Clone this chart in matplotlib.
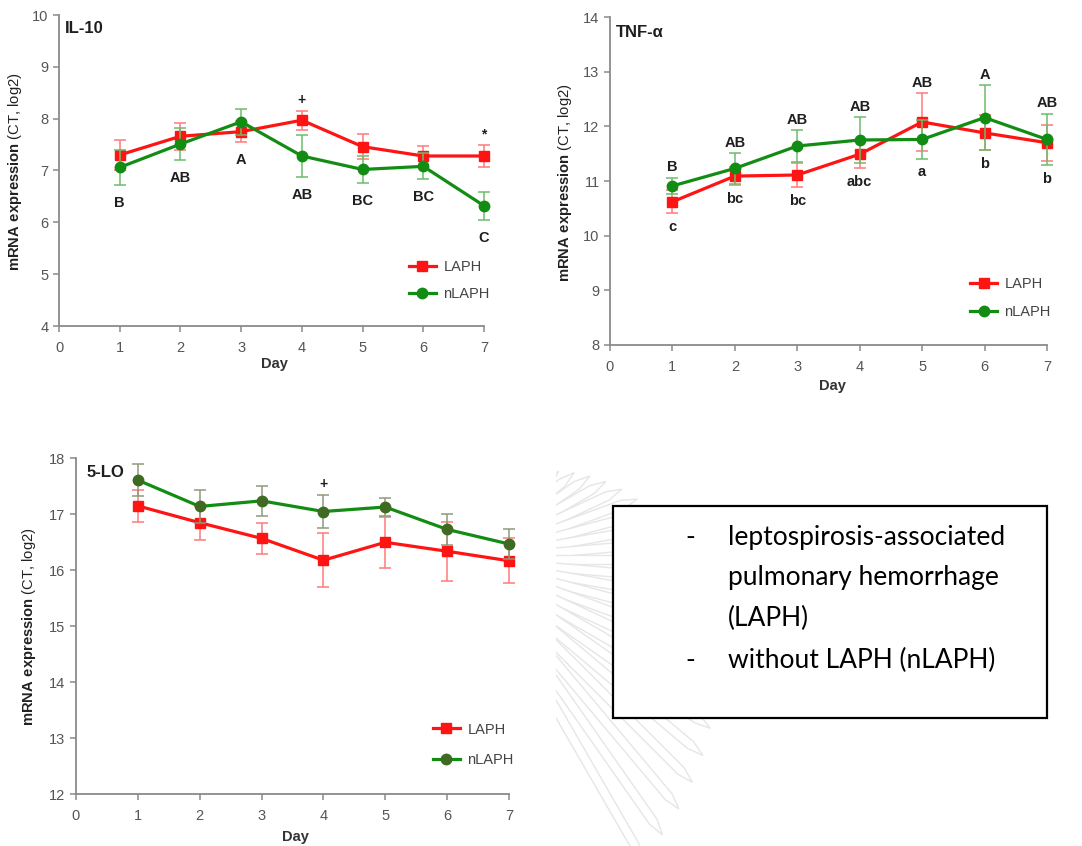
import matplotlib
matplotlib.use("Agg")
import matplotlib.pyplot as plt
import numpy as np
from matplotlib.patches import Rectangle, Polygon

plt.rcParams['font.family'] = ['Liberation Sans', 'DejaVu Sans']
plt.rcParams['mathtext.fontset'] = 'custom'
plt.rcParams['mathtext.bf'] = 'Liberation Sans:bold'
plt.rcParams['mathtext.rm'] = 'Liberation Sans'

# ---------------- data ----------------
days = [1, 2, 3, 4, 5, 6, 7]
day_ticks = [0, 1, 2, 3, 4, 5, 6, 7]

il10_laph = [7.30, 7.66, 7.75, 7.97, 7.46, 7.28, 7.28]
il10_laph_err = [0.29, 0.26, 0.20, 0.18, 0.24, 0.19, 0.21]
il10_nlaph = [7.06, 7.51, 7.94, 7.28, 7.02, 7.08, 6.32]
il10_nlaph_err = [0.34, 0.31, 0.25, 0.41, 0.26, 0.25, 0.27]
il10_letters = ['B', 'AB', 'A', 'AB', 'BC', 'BC', 'C']
il10_marks = ['', '', '', '+', '', '', '*']
il10_yticks = [4, 5, 6, 7, 8, 9, 10]

tnf_laph = [10.62, 11.09, 11.11, 11.49, 12.08, 11.88, 11.70]
tnf_laph_err = [0.21, 0.17, 0.22, 0.26, 0.53, 0.32, 0.33]
tnf_nlaph = [10.91, 11.23, 11.64, 11.75, 11.76, 12.16, 11.76]
tnf_nlaph_err = [0.15, 0.28, 0.29, 0.42, 0.35, 0.59, 0.47]
tnf_upper = ['B', 'AB', 'AB', 'AB', 'AB', 'A', 'AB']
tnf_lower = ['c', 'bc', 'bc', 'abc', 'a', 'b', 'b']
tnf_yticks = [8, 9, 10, 11, 12, 13, 14]

lo5_laph = [17.15, 16.85, 16.57, 16.18, 16.50, 16.34, 16.17]
lo5_laph_err = [0.28, 0.30, 0.27, 0.48, 0.46, 0.53, 0.40]
lo5_nlaph = [17.61, 17.14, 17.24, 17.05, 17.13, 16.73, 16.47]
lo5_nlaph_err = [0.28, 0.29, 0.27, 0.29, 0.16, 0.27, 0.27]
lo5_marks = ['', '', '', '+', '', '', '']
lo5_yticks = [12, 13, 14, 15, 16, 17, 18]

series_names = ['LAPH', 'nLAPH']
note_lines = ['leptospirosis-associated', 'pulmonary hemorrhage', '(LAPH)',
              'without LAPH (nLAPH)']
note_dashes = ['-', '', '', '-']

# ---------------- style ----------------
RED = '#ff1414'
RED_ERR = '#ff7a7a'
GREEN = '#138c13'
GREEN_ERR = '#6cbd6c'
OLIVE_MK = '#3f6a22'
OLIVE_ERR = '#8e9a7c'
AXIS_GRAY = '#8a8a8a'
TICK_TXT = '#555555'

fig = plt.figure(figsize=(10.82, 8.46), dpi=100)
fig.patch.set_facecolor('white')

# faint emblem rays behind the note box
bg = fig.add_axes([0, 0, 1, 1], zorder=0)
bg.set_xlim(0, 1082)
bg.set_ylim(846, 0)
bg.axis('off')
cx, cy = 470, 560
for ang in np.arange(-50, 64, 5.0):
    r = 220 + 2.1 * ang
    th = np.deg2rad(ang)
    ux, uy = np.cos(th), np.sin(th)
    px, py = -uy, ux
    r0, w = 60, 4.5
    pts = [(cx + ux * r0 + px * w, cy + uy * r0 + py * w),
           (cx + ux * (r - 16) + px * w, cy + uy * (r - 16) + py * w),
           (cx + ux * r, cy + uy * r),
           (cx + ux * (r - 16) - px * w, cy + uy * (r - 16) - py * w),
           (cx + ux * r0 - px * w, cy + uy * r0 - py * w)]
    bg.add_patch(Polygon(pts, closed=True, fc='white', ec='#e6e6e6', lw=1.0))
bg.add_patch(Rectangle((0, 447), 556, 400, fc='white', ec='none'))


def style_axes(ax, yticks):
    for s in ('top', 'right'):
        ax.spines[s].set_visible(False)
    for s in ('left', 'bottom'):
        ax.spines[s].set_color(AXIS_GRAY)
        ax.spines[s].set_linewidth(1.3)
    ax.set_xlim(0, 7)
    ax.set_ylim(yticks[0], yticks[-1])
    ax.set_xticks(day_ticks)
    ax.set_yticks(yticks)
    ax.tick_params(axis='both', direction='out', length=4, width=1.1,
                   color=AXIS_GRAY, labelcolor=TICK_TXT, labelsize=10.5)
    ax.tick_params(axis='x', pad=6.5)
    ax.tick_params(axis='y', pad=3.5)
    ax.set_ylabel(r'$\bf{mRNA\ expression}$ (CT, log2)', fontsize=10.6,
                  color='#222222')
    ax.set_xlabel('Day', fontsize=10.5, fontweight='bold', color='#333333')


def draw_series(ax, y, err, color, mfc, ecolor, marker, ms, z):
    c = ax.errorbar(days, y, yerr=err, color=color, lw=2.3, marker=marker,
                    ms=ms, mfc=mfc, mec=mfc, ecolor=ecolor, elinewidth=1.1,
                    capsize=4, capthick=1.1, zorder=z)
    for art in c.get_children():
        art.set_clip_on(False)
    return c


def annotate(ax, labels, anchors, dy, size=10.5):
    for d, lab, yv in zip(days, labels, anchors):
        if lab:
            ax.annotate(lab, xy=(d, yv), xytext=(0, dy),
                        textcoords='offset points', ha='center', va='center',
                        fontsize=size, fontweight='bold', color='#1e1e1e',
                        annotation_clip=False)


def add_legend(ax, handles, x, y, spacing):
    leg = ax.legend(handles, series_names, loc='center left',
                    bbox_to_anchor=(x, y), frameon=False, fontsize=10.5,
                    handlelength=1.85, handletextpad=0.5, borderpad=0,
                    borderaxespad=0, labelspacing=spacing)
    for t in leg.get_texts():
        t.set_color('#444444')


def upper_ends(a, ea, b, eb):
    return [max(p + q, r + s) for p, q, r, s in zip(a, ea, b, eb)]


def lower_ends(a, ea, b, eb):
    return [min(p - q, r - s) for p, q, r, s in zip(a, ea, b, eb)]


# ---------------- IL-10 ----------------
ax1 = fig.add_axes([59 / 1082, 1 - 326 / 846, 425 / 1082, 311 / 846], zorder=1)
style_axes(ax1, il10_yticks)
h1 = draw_series(ax1, il10_laph, il10_laph_err, RED, RED, RED_ERR, 's', 7, 3)
h2 = draw_series(ax1, il10_nlaph, il10_nlaph_err, GREEN, GREEN, GREEN_ERR, 'o', 7.5, 4)
annotate(ax1, il10_letters,
         lower_ends(il10_laph, il10_laph_err, il10_nlaph, il10_nlaph_err), -13)
annotate(ax1, il10_marks,
         upper_ends(il10_laph, il10_laph_err, il10_nlaph, il10_nlaph_err), 8, 10)
ax1.text(0.014, 0.958, 'IL-10', transform=ax1.transAxes, fontsize=12,
         fontweight='bold', color='#1e1e1e', va='center', ha='left')
ax1.yaxis.set_label_coords(-0.082, 0.495)
ax1.xaxis.set_label_coords(0.506, -0.10)
add_legend(ax1, [h1[0], h2[0]], 0.8235, 0.146, 0.9)

# ---------------- TNF-alpha ----------------
ax2 = fig.add_axes([610 / 1082, 1 - 345 / 846, 437 / 1082, 328 / 846], zorder=1)
style_axes(ax2, tnf_yticks)
h1 = draw_series(ax2, tnf_laph, tnf_laph_err, RED, RED, RED_ERR, 's', 7, 3)
h2 = draw_series(ax2, tnf_nlaph, tnf_nlaph_err, GREEN, GREEN, GREEN_ERR, 'o', 7.5, 4)
annotate(ax2, tnf_upper,
         upper_ends(tnf_laph, tnf_laph_err, tnf_nlaph, tnf_nlaph_err), 7.5)
annotate(ax2, tnf_lower,
         lower_ends(tnf_laph, tnf_laph_err, tnf_nlaph, tnf_nlaph_err), -10)
ax2.text(0.014, 0.954, 'TNF-α', transform=ax2.transAxes, fontsize=12,
         fontweight='bold', color='#1e1e1e', va='center', ha='left')
ax2.yaxis.set_label_coords(-0.082, 0.494)
ax2.xaxis.set_label_coords(0.508, -0.104)
add_legend(ax2, [h1[0], h2[0]], 0.824, 0.143, 1.0)

# ---------------- 5-LO ----------------
ax3 = fig.add_axes([76 / 1082, 1 - 794.3 / 846, 433 / 1082, 336 / 846], zorder=1)
style_axes(ax3, lo5_yticks)
h1 = draw_series(ax3, lo5_laph, lo5_laph_err, RED, RED, RED_ERR, 's', 7, 3)
h2 = draw_series(ax3, lo5_nlaph, lo5_nlaph_err, GREEN, OLIVE_MK, OLIVE_ERR, 'o', 7.5, 4)
annotate(ax3, lo5_marks,
         upper_ends(lo5_laph, lo5_laph_err, lo5_nlaph, lo5_nlaph_err), 8, 10)
ax3.text(0.025, 0.959, '5-LO', transform=ax3.transAxes, fontsize=12,
         fontweight='bold', color='#1e1e1e', va='center', ha='left')
ax3.yaxis.set_label_coords(-0.088, 0.498)
ax3.xaxis.set_label_coords(0.506, -0.106)
add_legend(ax3, [h1[0], h2[0]], 0.8245, 0.147, 1.15)

# ---------------- note box ----------------
fig.patches.append(Rectangle((613 / 1082, 1 - 718 / 846), 434 / 1082, 212 / 846,
                             transform=fig.transFigure, fc='white', ec='black',
                             lw=1.6, zorder=4))
line_y = [537, 578, 618, 660]
for dash, txt, yp in zip(note_dashes, note_lines, line_y):
    if dash:
        fig.text(685 / 1082, 1 - yp / 846, dash, fontsize=19, family='Lato',
                 ha='left', va='center', color='black', zorder=5)
    fig.text(728 / 1082, 1 - yp / 846, txt, fontsize=19, family='Lato',
             ha='left', va='center', color='black', zorder=5)

fig.savefig('out.png', dpi=100, facecolor='white')
